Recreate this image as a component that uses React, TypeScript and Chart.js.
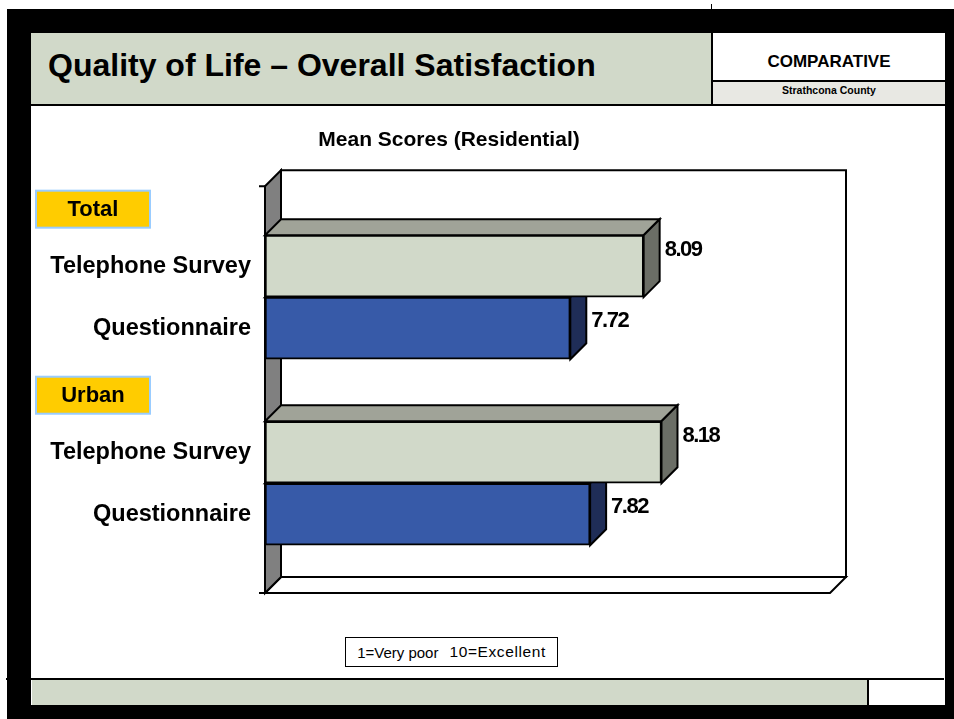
import React, { useEffect, useRef } from "react";
import { Chart, registerables } from "chart.js";

Chart.register(...registerables);

// ---------- data ----------
const CHART_TITLE = "Mean Scores (Residential)";
const GROUP_LABELS = ["Total", "Urban"];
const GROUP_POSITIONS = [0, 3];
const SERIES_NAMES = ["Telephone Survey", "Questionnaire"];
const TELEPHONE_POSITIONS = [1, 4];
const QUESTIONNAIRE_POSITIONS = [2, 5];
const TELEPHONE_SCORES = [8.09, 8.18];
const QUESTIONNAIRE_SCORES = [7.72, 7.82];
const TICK_POSITIONS = [1, 2, 4, 5];
const TICK_LABELS = ["Telephone Survey", "Questionnaire", "Telephone Survey", "Questionnaire"];
const X_MIN = 6.18;
const X_MAX = 9.03;
const Y_MIN = -0.29;
const Y_MAX = 6.27;

// ---------- style ----------
const FONT = "Arial, 'Liberation Sans', sans-serif";
const SAGE = "#d1d9c9";
const DX = 16;
const DY = -16;
const FRONT = ["#d1d9c9", "#375aa8"];
const TOPC = ["#a0a398", "#2b4888"];
const SIDE = ["#6b6e66", "#1f2d57"];
const LABEL_DY = [-16, -7];

function poly(ctx: CanvasRenderingContext2D, pts: number[][], fill: string) {
  ctx.beginPath();
  ctx.moveTo(pts[0][0], pts[0][1]);
  for (let i = 1; i < pts.length; i++) ctx.lineTo(pts[i][0], pts[i][1]);
  ctx.closePath();
  ctx.fillStyle = fill;
  ctx.fill();
  ctx.stroke();
}

const threeD = {
  id: "threeD",
  beforeDatasetsDraw(chart: any) {
    const ctx: CanvasRenderingContext2D = chart.ctx;
    const { left, right, top, bottom } = chart.chartArea;
    ctx.save();
    ctx.lineWidth = 2;
    ctx.strokeStyle = "#000";
    ctx.lineJoin = "miter";
    // back wall
    poly(ctx, [[left + DX, top + DY], [right + DX, top + DY], [right + DX, bottom + DY], [left + DX, bottom + DY]], "#fff");
    // floor
    poly(ctx, [[left, bottom], [left + DX, bottom + DY], [right + DX, bottom + DY], [right, bottom]], "#fff");
    // left wall
    poly(ctx, [[left, top], [left + DX, top + DY], [left + DX, bottom + DY], [left, bottom]], "#808080");
    // ticks
    ctx.beginPath();
    ctx.moveTo(left - 6, top);
    ctx.lineTo(left, top);
    ctx.moveTo(left - 6, bottom);
    ctx.lineTo(left, bottom);
    ctx.stroke();
    // depth faces of bars
    chart.data.datasets.forEach((_: any, di: number) => {
      const meta = chart.getDatasetMeta(di);
      meta.data.forEach((bar: any) => {
        const { x, y, base, height } = bar.getProps(["x", "y", "base", "height"], true);
        const t = y - height / 2;
        const b = y + height / 2;
        poly(ctx, [[base, t], [x, t], [x + DX, t + DY], [base + DX, t + DY]], TOPC[di]);
        poly(ctx, [[x, t], [x + DX, t + DY], [x + DX, b + DY], [x, b]], SIDE[di]);
      });
    });
    ctx.restore();
  },
  afterDatasetsDraw(chart: any) {
    const ctx: any = chart.ctx;
    ctx.save();
    ctx.font = `bold 22px ${FONT}`;
    ctx.fillStyle = "#000";
    ctx.textAlign = "left";
    ctx.textBaseline = "middle";
    ctx.letterSpacing = "-1.5px";
    chart.data.datasets.forEach((ds: any, di: number) => {
      const meta = chart.getDatasetMeta(di);
      meta.data.forEach((bar: any, i: number) => {
        const { x, y } = bar.getProps(["x", "y"], true);
        const v = ds.data[i].x;
        ctx.fillText(v.toFixed(2), x + DX + 5, y + LABEL_DY[di]);
      });
    });
    ctx.restore();
  },
  afterDraw(chart: any) {
    const ctx: CanvasRenderingContext2D = chart.ctx;
    const yScale = chart.scales.y;
    ctx.save();
    GROUP_LABELS.forEach((lab, i) => {
      const cy = yScale.getPixelForValue(GROUP_POSITIONS[i]) + 5;
      const x0 = 5;
      const w = 114;
      const h = 37;
      ctx.fillStyle = "#ffcc00";
      ctx.fillRect(x0, cy - h / 2, w, h);
      ctx.strokeStyle = "#99ccff";
      ctx.lineWidth = 2;
      ctx.strokeRect(x0, cy - h / 2, w, h);
      ctx.fillStyle = "#000";
      ctx.font = `bold 22px ${FONT}`;
      ctx.textAlign = "center";
      ctx.textBaseline = "middle";
      ctx.fillText(lab, x0 + w / 2, cy + 1);
    });
    ctx.restore();
  },
};

function ChartCanvas() {
  const ref = useRef<HTMLCanvasElement>(null);
  useEffect(() => {
    if (!ref.current) return;
    Chart.defaults.font.family = FONT;
    const chart = new Chart(ref.current, {
      type: "bar",
      data: {
        datasets: [
          {
            label: SERIES_NAMES[0],
            data: TELEPHONE_POSITIONS.map((p, i) => ({ x: TELEPHONE_SCORES[i], y: p })),
            base: X_MIN,
            backgroundColor: FRONT[0],
            borderColor: "#000",
            borderWidth: 2,
            borderSkipped: false,
          },
          {
            label: SERIES_NAMES[1],
            data: QUESTIONNAIRE_POSITIONS.map((p, i) => ({ x: QUESTIONNAIRE_SCORES[i], y: p })),
            base: X_MIN,
            backgroundColor: FRONT[1],
            borderColor: "#000",
            borderWidth: 2,
            borderSkipped: false,
          },
        ] as any,
      },
      options: {
        indexAxis: "y",
        responsive: false,
        animation: false,
        grouped: false,
        categoryPercentage: 1,
        barPercentage: 1,
        layout: { padding: { top: 0, left: 0, right: 0, bottom: 85 } },
        plugins: {
          legend: { display: false },
          tooltip: { enabled: false },
          title: {
            display: true,
            text: CHART_TITLE,
            color: "#000",
            font: { size: 21, weight: "bold", family: FONT },
            padding: { top: 22, bottom: 33 },
          },
        },
        scales: {
          x: { type: "linear", display: false, min: X_MIN, max: X_MAX },
          y: {
            type: "linear",
            reverse: true,
            offset: false,
            min: Y_MIN,
            max: Y_MAX,
            grid: { display: false },
            border: { display: false },
            afterBuildTicks: (s: any) => {
              s.ticks = TICK_POSITIONS.map((v) => ({ value: v }));
            },
            afterFit: (s: any) => {
              s.width = 234;
            },
            ticks: {
              autoSkip: false,
              padding: 6,
              color: "#000",
              font: { size: 23.5, weight: "bold", family: FONT },
              callback: (_v: any, idx: number) => TICK_LABELS[idx],
            },
          },
          yRight: {
            type: "linear",
            position: "right",
            display: true,
            min: Y_MIN,
            max: Y_MAX,
            grid: { display: false },
            border: { display: false },
            ticks: { display: false },
            afterFit: (s: any) => {
              s.width = 37;
            },
          },
        },
      } as any,
      plugins: [threeD],
    });
    return () => chart.destroy();
  }, []);
  return (
    <canvas
      ref={ref}
      width={836}
      height={572}
      style={{ position: "absolute", left: 31, top: 106, width: 836, height: 572 }}
    />
  );
}

export default function App() {
  const abs = (l: number, t: number, w: number, h: number, extra: any = {}) => ({
    position: "absolute" as const,
    left: l,
    top: t,
    width: w,
    height: h,
    ...extra,
  });
  return (
    <div style={abs(0, 0, 954, 719, { background: "#fff", overflow: "hidden", fontFamily: FONT })}>
      {/* black frame */}
      <div style={abs(7, 9, 947, 710, { background: "#000" })} />
      {/* white content */}
      <div style={abs(31, 33, 914, 672, { background: "#fff" })} />
      {/* tiny top tick */}
      <div style={abs(711, 4, 1, 5, { background: "#000" })} />
      {/* header title box */}
      <div style={abs(31, 33, 680, 72, { background: SAGE })} />
      <div style={abs(711, 33, 2, 73, { background: "#000" })} />
      <div style={abs(713, 80, 232, 2, { background: "#000" })} />
      <div style={abs(713, 82, 232, 22, { background: "#e8e8e3" })} />
      <div style={abs(31, 104, 914, 2, { background: "#000" })} />
      <div
        style={abs(48, 49, 660, 32, {
          fontSize: 32,
          lineHeight: "32px",
          fontWeight: "bold",
          color: "#000",
          whiteSpace: "nowrap",
        })}
      >
        Quality of Life – Overall Satisfaction
      </div>
      <div
        style={abs(713, 53, 232, 17, {
          fontSize: 17,
          lineHeight: "17px",
          fontWeight: "bold",
          textAlign: "center",
          color: "#000",
        })}
      >
        COMPARATIVE
      </div>
      <div
        style={abs(713, 85, 232, 11, {
          fontSize: 10.5,
          lineHeight: "11px",
          fontWeight: "bold",
          textAlign: "center",
          color: "#000",
        })}
      >
        Strathcona County
      </div>

      <ChartCanvas />

      {/* scale note box */}
      <div
        style={abs(345, 637, 213, 30, {
          boxSizing: "border-box",
          border: "1.5px solid #000",
          background: "#fff",
          display: "flex",
          alignItems: "center",
          justifyContent: "center",
          whiteSpace: "nowrap",
          color: "#000",
        })}
      >
        <span style={{ fontSize: 15 }}>1=Very poor</span>
        <span style={{ fontSize: 15.5, marginLeft: 11, letterSpacing: "0.6px" }}>10=Excellent</span>
      </div>

      {/* footer */}
      <div style={abs(6, 678, 938, 2, { background: "#000" })} />
      <div style={abs(32, 680, 835, 25, { background: SAGE })} />
      <div style={abs(867, 680, 2, 25, { background: "#000" })} />
    </div>
  );
}
